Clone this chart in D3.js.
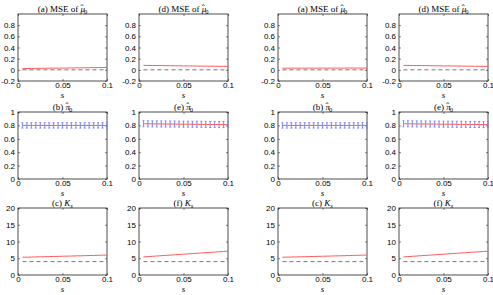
<!DOCTYPE html>
<html><head><meta charset="utf-8">
<script src="https://cdn.jsdelivr.net/npm/d3@7"></script>
<style>
body{margin:0;background:#fff;}
svg{display:block;}
.tick text{font-family:"Liberation Sans",Arial,sans-serif;font-size:8px;fill:#000;}
.ttl{font-family:"Liberation Serif","Times New Roman",serif;font-size:9px;fill:#000;}
</style></head>
<body>
<script>
// ---- data ----
const sVals = [0.005,0.01,0.015,0.02,0.025,0.03,0.035,0.04,0.045,0.05,0.055,0.06,0.065,0.07,0.075,0.08,0.085,0.09,0.095,0.1];
const xTicks = [0, 0.05, 0.1];
const mseTicks = [-0.2, 0, 0.2, 0.4, 0.6, 0.8];
const piTicks = [0, 0.2, 0.4, 0.6, 0.8, 1];
const kTicks = [0, 5, 10, 15, 20];
const panelLetters = [["a","d","a","d"],["b","e","b","e"],["c","f","c","f"]];
// MSE of mu0 (columns 1..4)
const mseA1 = [0.022,0.024,0.025,0.026,0.027,0.028,0.029,0.030,0.031,0.032,0.033,0.034,0.035,0.036,0.037,0.038,0.039,0.040,0.041,0.042];
const mseD1 = [0.080,0.079,0.078,0.077,0.076,0.075,0.074,0.073,0.072,0.071,0.070,0.069,0.068,0.067,0.066,0.065,0.064,0.063,0.062,0.061];
const mseA2 = [0.030,0.030,0.030,0.030,0.030,0.030,0.031,0.031,0.031,0.031,0.031,0.031,0.031,0.031,0.032,0.032,0.032,0.032,0.032,0.032];
const mseD2 = [0.080,0.079,0.078,0.077,0.076,0.075,0.074,0.073,0.072,0.071,0.070,0.069,0.068,0.067,0.066,0.065,0.064,0.063,0.062,0.061];
const mseTrue = 0;
// pi0 estimates and error bar half-widths
const piB = [0.80,0.80,0.80,0.80,0.80,0.80,0.80,0.80,0.80,0.80,0.80,0.80,0.80,0.80,0.80,0.80,0.80,0.80,0.80,0.80];
const piBerr = [0.04,0.04,0.04,0.04,0.04,0.04,0.04,0.04,0.04,0.04,0.04,0.04,0.04,0.04,0.04,0.04,0.04,0.04,0.04,0.04];
const piE = [0.825,0.824,0.823,0.822,0.822,0.821,0.820,0.820,0.819,0.818,0.818,0.817,0.816,0.816,0.815,0.814,0.814,0.813,0.812,0.812];
const piEerr = [0.045,0.045,0.045,0.045,0.045,0.045,0.045,0.045,0.045,0.045,0.045,0.045,0.045,0.045,0.045,0.045,0.045,0.045,0.045,0.045];
// K_s
const kC = [5.3,5.33,5.36,5.4,5.43,5.46,5.5,5.53,5.56,5.6,5.63,5.66,5.7,5.73,5.77,5.8,5.84,5.88,5.92,5.96];
const kF = [5.4,5.49,5.58,5.67,5.76,5.85,5.94,6.03,6.12,6.21,6.3,6.39,6.48,6.57,6.66,6.75,6.84,6.93,7.02,7.1];
const kTrue = 4;

const W = 493, H = 295;
const colLeft = [18, 139, 278, 399];
const rowTop = [14, 112, 208];
const pw = 89, ph = 67;

const svg = d3.select("body").append("svg").attr("width", W).attr("height", H);

const panels = [];
[[mseA1,0],[mseD1,1],[mseA2,2],[mseD2,3]].forEach(([d,c]) => panels.push({row:0,col:c,line:d,domain:[-0.2,1.0],ticks:mseTicks,ref:mseTrue}));
[[piB,piBerr,0],[piE,piEerr,1],[piB,piBerr,2],[piE,piEerr,3]].forEach(([d,e,c]) => panels.push({row:1,col:c,line:d,err:e,domain:[0,1],ticks:piTicks}));
[[kC,0],[kF,1],[kC,2],[kF,3]].forEach(([d,c]) => panels.push({row:2,col:c,line:d,domain:[0,20],ticks:kTicks,ref:kTrue}));

panels.forEach(p => {
  const x0 = colLeft[p.col], y0 = rowTop[p.row];
  const g = svg.append("g").attr("transform", `translate(${x0},${y0})`);
  const x = d3.scaleLinear().domain([0, 0.1]).range([0, pw]);
  const y = d3.scaleLinear().domain(p.domain).range([ph, 0]);

  const fmt = v => (v === 0 ? "0" : String(v));
  g.append("g").attr("transform", `translate(0,${ph})`)
    .call(d3.axisBottom(x).tickValues(xTicks).tickSizeInner(-2).tickSizeOuter(0).tickPadding(1).tickFormat(fmt));
  g.append("g")
    .call(d3.axisLeft(y).tickValues(p.ticks).tickSizeInner(-2).tickSizeOuter(0).tickPadding(3).tickFormat(fmt));
  g.append("g").call(d3.axisTop(x).tickValues(xTicks).tickSizeInner(-2).tickSizeOuter(0).tickFormat(""));
  g.append("g").attr("transform", `translate(${pw},0)`).call(d3.axisRight(y).tickValues(p.ticks).tickSizeInner(-2).tickSizeOuter(0).tickFormat(""));
  g.selectAll(".domain").remove();
  g.selectAll(".tick line").attr("stroke", "#333").attr("stroke-width", 0.6);
  g.append("rect").attr("width", pw).attr("height", ph).attr("fill", "none").attr("stroke", "#222").attr("stroke-width", 0.8);

  if (p.ref !== undefined) {
    g.append("line").attr("x1", x(sVals[0])).attr("x2", x(0.1))
      .attr("y1", y(p.ref)).attr("y2", y(p.ref))
      .attr("stroke", "#555").attr("stroke-width", 0.8).attr("stroke-dasharray", "4,3");
  }
  if (p.err) {
    const eb = g.append("g").attr("stroke", "#7080ff").attr("stroke-width", 0.9);
    sVals.forEach((s, i) => {
      const cx = x(s), lo = y(p.line[i] - p.err[i]), hi = y(p.line[i] + p.err[i]);
      eb.append("line").attr("x1", cx).attr("x2", cx).attr("y1", lo).attr("y2", hi);
      eb.append("line").attr("x1", cx-1).attr("x2", cx+1).attr("y1", lo).attr("y2", lo);
      eb.append("line").attr("x1", cx-1).attr("x2", cx+1).attr("y1", hi).attr("y2", hi);
    });
  }
  const line = d3.line().x((d, i) => x(sVals[i])).y(d => y(d));
  g.append("path").datum(p.line).attr("d", line).attr("fill", "none")
    .attr("stroke", "#ff5a5a").attr("stroke-width", 1);

  // x label
  g.append("text").attr("class", "ttl").attr("x", pw/2).attr("y", ph + 17)
    .attr("text-anchor", "middle").attr("font-style", "italic").attr("font-size", "7px").text("s");

  // title
  const letter = panelLetters[p.row][p.col];
  const t = g.append("text").attr("class", "ttl").attr("x", pw/2).attr("y", -2).attr("text-anchor", "middle");
  if (p.row === 0) {
    t.append("tspan").text(`(${letter}) MSE of `);
    t.append("tspan").attr("font-style", "italic").text("\u03BC");
    t.append("tspan").attr("dx", -4.5).attr("dy", -1).text("\u02C6");
    t.append("tspan").attr("font-size", "6.5px").attr("dx", 0.5).attr("dy", 3).text("0");
  } else if (p.row === 1) {
    t.append("tspan").text(`(${letter}) `);
    t.append("tspan").attr("font-style", "italic").text("\u03C0");
    t.append("tspan").attr("dx", -4.5).attr("dy", -1).text("\u02C6");
    t.append("tspan").attr("font-size", "6.5px").attr("dx", 0.5).attr("dy", 3).text("0");
  } else {
    t.append("tspan").text(`(${letter}) `);
    t.append("tspan").attr("font-style", "italic").text("K");
    t.append("tspan").attr("font-style", "italic").attr("font-size", "6.5px").attr("dy", 2).text("s");
  }
});
</script>
</body></html>
